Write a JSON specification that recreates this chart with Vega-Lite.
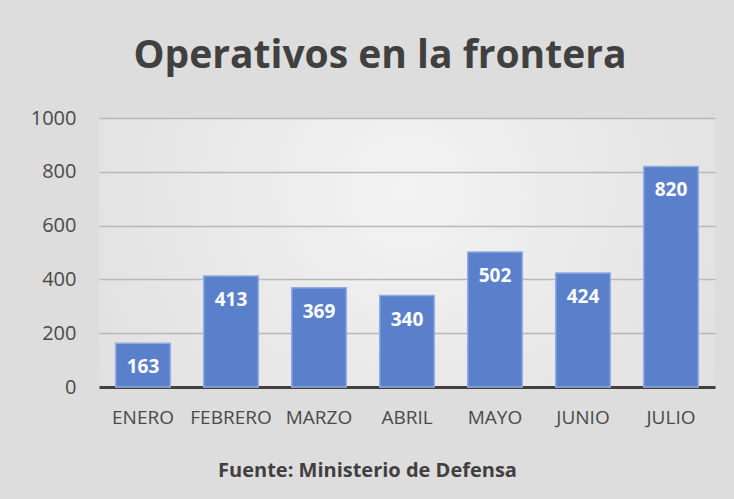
{
  "$schema": "https://vega.github.io/schema/vega-lite/v6.json",
  "width": 616,
  "height": 269,
  "autosize": {"type": "none"},
  "padding": {"left": 99, "top": 118, "right": 19, "bottom": 112},
  "background": "#dddddd",
  "title": {
    "text": "Operativos en la frontera",
    "font": "Open Sans",
    "fontSize": 39,
    "fontWeight": "bold",
    "color": "#404040",
    "anchor": "middle",
    "frame": "group",
    "dx": -27,
    "offset": 32
  },
  "config": {
    "view": {"stroke": null, "fill": {"gradient": "radial", "x1": 0.5, "y1": 0.4, "x2": 0.5, "y2": 0.4, "r1": 0, "r2": 0.8, "stops": [{"offset": 0, "color": "#f3f3f3"}, {"offset": 1, "color": "#dadada"}]}},
    "font": "Open Sans"
  },
  "data": {
    "values": [
      {"mes": "ENERO", "valor": 163},
      {"mes": "FEBRERO", "valor": 413},
      {"mes": "MARZO", "valor": 369},
      {"mes": "ABRIL", "valor": 340},
      {"mes": "MAYO", "valor": 502},
      {"mes": "JUNIO", "valor": 424},
      {"mes": "JULIO", "valor": 820}
    ]
  },
  "encoding": {
    "x": {
      "field": "mes", "type": "nominal", "sort": null,
      "scale": {"paddingInner": 0.38, "paddingOuter": 0.19},
      "axis": {
        "labelAngle": 0, "labelFontSize": 19, "labelColor": "#4a4a4a", "labelPadding": 21,
        "ticks": false, "domainColor": "#404040", "domainWidth": 3, "labelOverlap": false,
        "title": "Fuente: Ministerio de Defensa", "titleFontSize": 20, "titleFontWeight": "bold",
        "titleColor": "#404040", "titleX": 268, "titleY": 83, "titleBaseline": "middle"
      }
    },
    "y": {
      "field": "valor", "type": "quantitative",
      "scale": {"domain": [0, 1000]},
      "axis": {
        "values": [0, 200, 400, 600, 800, 1000], "format": "d", "title": null, "ticks": false, "domain": false,
        "labelFontSize": 20, "labelColor": "#4a4a4a", "labelPadding": 23,
        "gridColor": "#b8b8b8", "gridWidth": 1.5
      }
    }
  },
  "layer": [
    {"mark": {"type": "bar", "color": "#5a7fcb", "stroke": "#93acdf", "strokeWidth": 1.5}},
    {
      "mark": {"type": "text", "color": "white", "fontWeight": "bold", "fontSize": 19, "baseline": "middle", "dy": 24},
      "encoding": {"text": {"field": "valor", "type": "quantitative"}}
    }
  ]
}
